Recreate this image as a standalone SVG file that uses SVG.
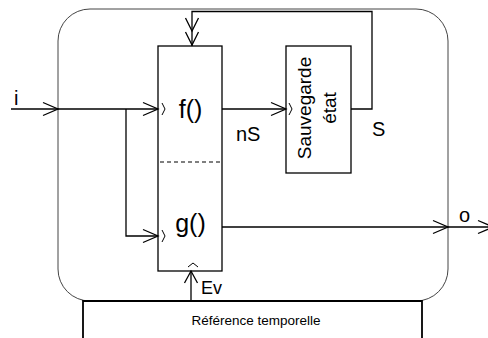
<svg xmlns="http://www.w3.org/2000/svg" width="488" height="338" viewBox="0 0 488 338">
<style>
text{font-family:"Liberation Sans",Arial,sans-serif;fill:#000}
.ln{fill:none;stroke:#000;stroke-width:1.3}
.ar{fill:none;stroke:#000;stroke-width:1.3;stroke-linejoin:miter}
.pm{fill:none;stroke:#000;stroke-width:1}
.big{font-size:25px}
.lbl{font-size:20px}
.rot{font-size:19px}
</style>
<rect width="488" height="338" fill="#fff"/>
<g id="system">
<rect x="58" y="9" width="390" height="292" rx="32" ry="32" fill="none" stroke="#444" stroke-width="1"/>
</g>
<g id="ref-temporelle">
<polyline points="83,338 83,301 422,301 422,338" fill="none" stroke="#000" stroke-width="1.8"/>
<text x="256" y="325" font-size="13.5" text-anchor="middle">Référence temporelle</text>
</g>
<g id="bloc-fg">
<rect x="158" y="46" width="64" height="225" fill="none" stroke="#000" stroke-width="1.3"/>
<line x1="160" y1="162" x2="220" y2="162" stroke="#000" stroke-width="1.2" stroke-dasharray="4,3"/>
<text class="big" x="190.5" y="117.5" text-anchor="middle">f()</text>
<text class="big" x="190.5" y="231.5" text-anchor="middle">g()</text>
</g>
<g id="sauvegarde">
<rect x="286" y="46" width="65" height="127" fill="none" stroke="#000" stroke-width="1.3"/>
<text class="rot" transform="translate(311,108) rotate(-90)" text-anchor="middle">Sauvegarde</text>
<text class="rot" transform="translate(336,108) rotate(-90)" text-anchor="middle">état</text>
</g>
<g id="connectors">
<line class="ln" x1="11" y1="109" x2="158" y2="109"/>
<polyline class="ar" points="43,102.5 58,109 43,115.5"/>
<polyline class="ar" points="143,102.5 158,109 143,115.5"/>
<polyline class="pm" points="162,103 165,109 162,115"/>
<polyline class="ln" points="126,109 126,236 158,236"/>
<polyline class="ar" points="143,229.5 158,236 143,242.5"/>
<polyline class="pm" points="162,230 165,236 162,242"/>
<line class="ln" x1="222" y1="109" x2="286" y2="109"/>
<polyline class="ar" points="271,102.5 286,109 271,115.5"/>
<polyline class="pm" points="289,103 292,109 289,115"/>
<polyline class="ln" points="351,109 372,109 372,11.5 192,11.5 192,46"/>
<polyline class="ar" points="185.5,18 192,31 198.5,18"/>
<polyline class="ar" points="185.5,32 192,45 198.5,32"/>
<line class="ln" x1="222" y1="227" x2="488" y2="227"/>
<polyline class="ar" points="433,220.5 448,227 433,233.5"/>
<polyline class="ar" points="478,220.5 493,227 478,233.5"/>
<line class="ln" x1="191" y1="301" x2="191" y2="271"/>
<polyline class="ar" points="184.5,283 191,271 197.5,283"/>
<polyline class="pm" points="188,267 193,263 198,267"/>
</g>
<g id="labels">
<text class="lbl" x="14" y="105">i</text>
<text class="lbl" x="236" y="141">nS</text>
<text class="lbl" x="372" y="136">S</text>
<text class="lbl" x="459" y="222">o</text>
<text x="201" y="294" font-size="18">Ev</text>
</g>
</svg>
